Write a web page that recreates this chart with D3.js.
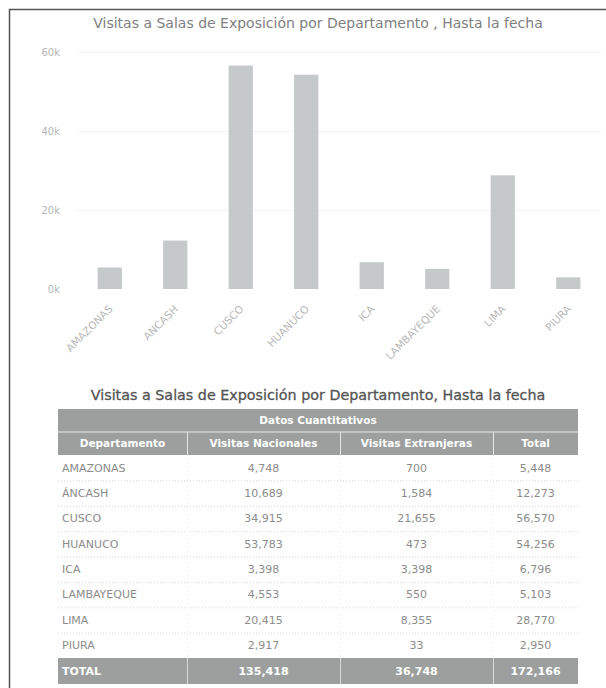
<!DOCTYPE html>
<html>
<head>
<meta charset="utf-8">
<script src="https://cdn.jsdelivr.net/npm/d3@7"></script>
<style>
  html, body { margin: 0; padding: 0; background: #fff; }
  svg { display: block; font-family: 'DejaVu Sans', Verdana, sans-serif; }
  .axis path, .axis line { display: none; }
</style>
</head>
<body>
<svg id="chart" width="606" height="688"></svg>
<script>
// chart values
var chartLabels = ['AMAZONAS', 'ANCASH', 'CUSCO', 'HUANUCO', 'ICA', 'LAMBAYEQUE', 'LIMA', 'PIURA']
var departamentos = ['AMAZONAS', 'ÁNCASH', 'CUSCO', 'HUANUCO', 'ICA', 'LAMBAYEQUE', 'LIMA', 'PIURA']
var nacionales = [4748, 10689, 34915, 53783, 3398, 4553, 20415, 2917]
var extranjeras = [700, 1584, 21655, 473, 3398, 550, 8355, 33]
var totales = [5448, 12273, 56570, 54256, 6796, 5103, 28770, 2950]
var yTicks = [0, 20000, 40000, 60000]
var headers = ['Departamento', 'Visitas Nacionales', 'Visitas Extranjeras', 'Total']

var chartTitle = 'Visitas a Salas de Exposición por Departamento , Hasta la fecha'
var tableTitle = 'Visitas a Salas de Exposición por Departamento, Hasta la fecha'
var groupTitle = 'Datos Cuantitativos'

var fmt = d3.format(',')
var svg = d3.select('#chart')

// frame round the whole widget
svg.append('path')
    .attr('d', 'M9.5,688 V9.5 H606')
    .attr('fill', 'none')
    .attr('stroke', '#555')
    .attr('stroke-width', 1.5)

// ---------- bar chart ----------
var x = d3.scaleBand()
    .domain(chartLabels)
    .range([77, 601])
    .paddingInner(0.63)
    .paddingOuter(0.315)

var y = d3.scaleLinear()
    .domain([0, 60000])
    .range([289, 52])

svg.append('text')
    .attr('x', 318)
    .attr('y', 28)
    .attr('text-anchor', 'middle')
    .attr('font-size', 14)
    .attr('fill', '#808080')
    .text(chartTitle)

// faint grid
svg.append('g')
  .selectAll('line')
    .data(yTicks.slice(1))
  .enter().append('line')
    .attr('x1', 77)
    .attr('x2', 601)
    .attr('y1', function (d) { return y(d) + 0.5 })
    .attr('y2', function (d) { return y(d) + 0.5 })
    .attr('stroke', '#f4f4f4')

// y axis
var yAxis = svg.append('g')
    .attr('class', 'axis')
    .attr('transform', 'translate(63,0)')
    .call(d3.axisLeft(y)
      .tickValues(yTicks)
      .tickSize(0)
      .tickFormat(function (d) { return (d / 1000) + 'k' }))
yAxis.selectAll('text')
    .attr('font-family', 'DejaVu Sans')
    .attr('font-size', 10)
    .attr('fill', '#b5b5b5')

// bars
svg.selectAll('.bar')
    .data(totales)
  .enter().append('rect')
    .attr('class', 'bar')
    .attr('fill', '#c6c9c9')
    .attr('x', function (d, i) { return x(chartLabels[i]) })
    .attr('width', x.bandwidth())
    .attr('y', function (d) { return y(d) })
    .attr('height', function (d) { return y(0) - y(d) })

// x axis, labels slanted
var xAxis = svg.append('g')
    .attr('class', 'axis')
    .attr('transform', 'translate(0,' + y(0) + ')')
    .call(d3.axisBottom(x).tickSize(0))
xAxis.selectAll('text')
    .attr('font-family', 'DejaVu Sans')
    .attr('font-size', 10.5)
    .attr('fill', '#b8b8b8')
    .attr('text-anchor', 'end')
    .attr('x', 0)
    .attr('y', 0)
    .attr('dy', '0.35em')
    .attr('transform', 'translate(1,18) rotate(-45)')

// ---------- table ----------
var colEdges = [58, 187, 340, 493, 578]
var rowScale = d3.scaleBand()
    .domain(d3.range(departamentos.length))
    .range([455, 658])
var head1 = [409, 432]
var head2 = [432, 455]
var totalRow = [658, 684]
var gray = '#9d9f9f'

svg.append('text')
    .attr('x', 318)
    .attr('y', 400)
    .attr('text-anchor', 'middle')
    .attr('font-size', 14.3)
    .attr('fill', '#555')
    .attr('stroke', '#555')
    .attr('stroke-width', 0.3)
    .text(tableTitle)

var table = svg.append('g')

// header backgrounds
table.append('rect')
    .attr('x', colEdges[0])
    .attr('y', head1[0])
    .attr('width', colEdges[4] - colEdges[0])
    .attr('height', head2[1] - head1[0])
    .attr('fill', gray)
table.append('line')
    .attr('x1', colEdges[0]).attr('x2', colEdges[4])
    .attr('y1', head1[1]).attr('y2', head1[1])
    .attr('stroke', '#e4e4e4')
table.append('text')
    .attr('x', (colEdges[0] + colEdges[4]) / 2)
    .attr('y', (head1[0] + head1[1]) / 2)
    .attr('dy', '0.35em')
    .attr('text-anchor', 'middle')
    .attr('font-size', 10.5)
    .attr('font-weight', 'bold')
    .attr('fill', '#fff')
    .text(groupTitle)

// column headers
table.selectAll('.col-head')
    .data(headers)
  .enter().append('text')
    .attr('class', 'col-head')
    .attr('x', function (d, i) { return (colEdges[i] + colEdges[i + 1]) / 2 })
    .attr('y', (head2[0] + head2[1]) / 2)
    .attr('dy', '0.35em')
    .attr('text-anchor', 'middle')
    .attr('font-size', 10.5)
    .attr('font-weight', 'bold')
    .attr('fill', '#fff')
    .text(function (d) { return d })

// total row background
table.append('rect')
    .attr('x', colEdges[0])
    .attr('y', totalRow[0])
    .attr('width', colEdges[4] - colEdges[0])
    .attr('height', totalRow[1] - totalRow[0])
    .attr('fill', gray)

// vertical separators in headers and total row
var inner = colEdges.slice(1, 4)
table.selectAll('.head-sep')
    .data(inner)
  .enter().append('line')
    .attr('x1', function (d) { return d + 0.5 })
    .attr('x2', function (d) { return d + 0.5 })
    .attr('y1', head2[0])
    .attr('y2', head2[1])
    .attr('stroke', '#e4e4e4')
table.selectAll('.total-sep')
    .data(inner)
  .enter().append('line')
    .attr('x1', function (d) { return d + 0.5 })
    .attr('x2', function (d) { return d + 0.5 })
    .attr('y1', totalRow[0])
    .attr('y2', totalRow[1])
    .attr('stroke', '#d8d8d8')

// dotted separators in the body
table.selectAll('.row-sep')
    .data(d3.range(1, departamentos.length))
  .enter().append('line')
    .attr('x1', colEdges[0])
    .attr('x2', colEdges[4])
    .attr('y1', function (i) { return rowScale(i) + 0.5 })
    .attr('y2', function (i) { return rowScale(i) + 0.5 })
    .attr('stroke', '#d6d6d6')
    .attr('stroke-dasharray', '1,2')
table.selectAll('.col-sep')
    .data(inner)
  .enter().append('line')
    .attr('x1', function (d) { return d + 0.5 })
    .attr('x2', function (d) { return d + 0.5 })
    .attr('y1', head2[1])
    .attr('y2', totalRow[0])
    .attr('stroke', '#ececec')
    .attr('stroke-dasharray', '1,3')

// body cells
var rows = departamentos.map(function (d, i) {
  return [d, fmt(nacionales[i]), fmt(extranjeras[i]), fmt(totales[i])]
})
var rowG = table.selectAll('.row')
    .data(rows)
  .enter().append('g')
    .attr('transform', function (d, i) {
      return 'translate(0,' + (rowScale(i) + rowScale.bandwidth() / 2) + ')'
    })
rowG.selectAll('text')
    .data(function (d) { return d })
  .enter().append('text')
    .attr('x', function (d, j) {
      return j === 0 ? colEdges[0] + 4 : (colEdges[j] + colEdges[j + 1]) / 2
    })
    .attr('dy', '0.35em')
    .attr('text-anchor', function (d, j) { return j === 0 ? 'start' : 'middle' })
    .attr('font-size', 11)
    .attr('fill', '#8c8c8c')
    .text(function (d) { return d })

// total row
var totalCells = ['TOTAL', fmt(d3.sum(nacionales)), fmt(d3.sum(extranjeras)), fmt(d3.sum(totales))]
table.selectAll('.total-cell')
    .data(totalCells)
  .enter().append('text')
    .attr('class', 'total-cell')
    .attr('x', function (d, j) {
      return j === 0 ? colEdges[0] + 4 : (colEdges[j] + colEdges[j + 1]) / 2
    })
    .attr('y', (totalRow[0] + totalRow[1]) / 2)
    .attr('dy', '0.35em')
    .attr('text-anchor', function (d, j) { return j === 0 ? 'start' : 'middle' })
    .attr('font-size', 11)
    .attr('font-weight', 'bold')
    .attr('fill', '#fff')
    .text(function (d) { return d })
</script>
</body>
</html>
